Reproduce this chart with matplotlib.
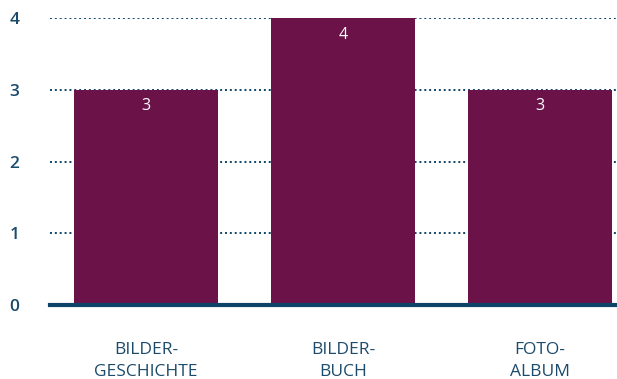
import matplotlib
matplotlib.use("Agg")
import matplotlib.pyplot as plt

categories = ["BILDER-\nGESCHICHTE", "BILDER-\nBUCH", "FOTO-\nALBUM"]
values = [3, 4, 3]
yticks = [0, 1, 2, 3, 4]

bar_color = "#6b1249"
text_color = "#1b4a6b"
axis_color = "#0e4468"

plt.rcParams["font.family"] = ["Open Sans", "DejaVu Sans"]

fig = plt.figure(figsize=(6.17, 3.79), dpi=100)
ax = fig.add_axes([50 / 617, 1 - 305 / 379, 567 / 617, (305 - 18) / 379])

x = list(range(len(categories)))
bars = ax.bar(x, values, width=0.73, color=bar_color, zorder=2)
for xi, v in zip(x, values):
    ax.text(xi, v - 0.23, str(v), ha="center", va="center", color="white", fontsize=11.5)

ax.set_xlim(-0.487, 2.39)
ax.set_ylim(0, 4)
ax.set_yticks(yticks)
ax.set_xticks(x)
ax.set_xticklabels(categories, fontsize=12.5, color=text_color, linespacing=1.5)
for lbl in ax.get_yticklabels():
    lbl.set_fontsize(12.5)
    lbl.set_color(text_color)
    lbl.set_fontweight("semibold")
for lbl in ax.get_xticklabels():
    lbl.set_fontweight("medium")
ax.tick_params(axis="both", length=0)
ax.tick_params(axis="x", pad=27)
ax.tick_params(axis="y", pad=22)

for s in ax.spines.values():
    s.set_visible(False)
ax.grid(axis="y", linestyle=(0, (1, 1.5)), color=axis_color, linewidth=1.4, zorder=1)
ax.grid(axis="x", visible=False)
ax.axhline(0, color=axis_color, linewidth=3, zorder=3, clip_on=False)

fig.savefig("out.png", dpi=100)
